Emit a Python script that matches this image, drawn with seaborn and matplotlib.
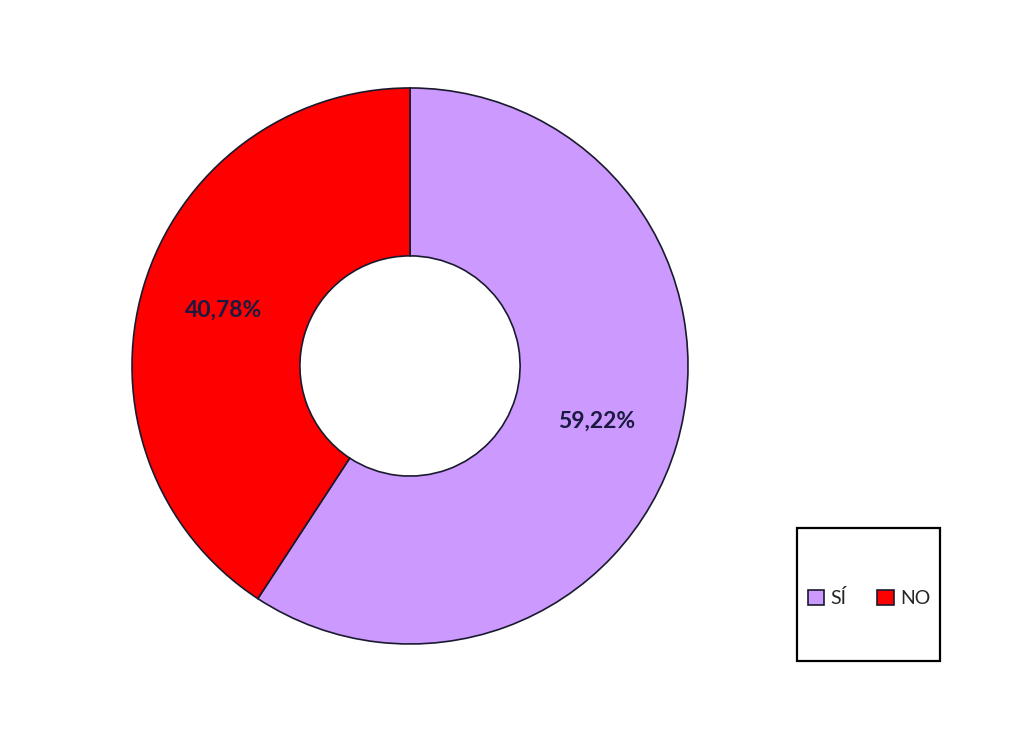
import matplotlib
matplotlib.use("Agg")
import matplotlib.pyplot as plt
import seaborn as sns
from matplotlib.patches import Rectangle

# data
labels = ["SÍ", "NO"]
values = [59.22, 40.78]
colors = ["#CC99FF", "#FF0000"]

sns.set_theme(style="white")
plt.rcParams['font.family'] = ['Lato', 'DejaVu Sans']

fig = plt.figure(figsize=(10.24, 7.38), dpi=100)
fig.patch.set_facecolor("white")

# donut axes
ax = fig.add_axes([0.1289, 0.1274, 0.543, 0.7534])
wedges, texts, autotexts = ax.pie(
    values, colors=colors, startangle=90, counterclock=False,
    radius=1, wedgeprops=dict(width=0.604, edgecolor="#1a1a2e", linewidth=1.2),
    autopct=lambda p: f"{p:.2f}%".replace(".", ","), pctdistance=0.70,
    textprops=dict(fontsize=16.5, fontweight="bold", color="#1a1a40"),
)
ax.set_xlim(-1.0, 1.0)
ax.set_ylim(-1.0, 1.0)
ax.set_aspect("equal")
ax.axis("off")

# legend box
fig.patches.append(Rectangle((797 / 1024, 1 - 661 / 738), 143 / 1024, 133 / 738,
                             transform=fig.transFigure, fill=False,
                             edgecolor="black", linewidth=1.6))
fig.legend(wedges, labels, loc="center",
           bbox_to_anchor=(869 / 1024, 1 - 598 / 738),
           ncol=2, frameon=False, fontsize=14, handlelength=0.85, handleheight=0.85,
           handletextpad=0.3, columnspacing=1.6)

fig.savefig("out.png", dpi=100)
